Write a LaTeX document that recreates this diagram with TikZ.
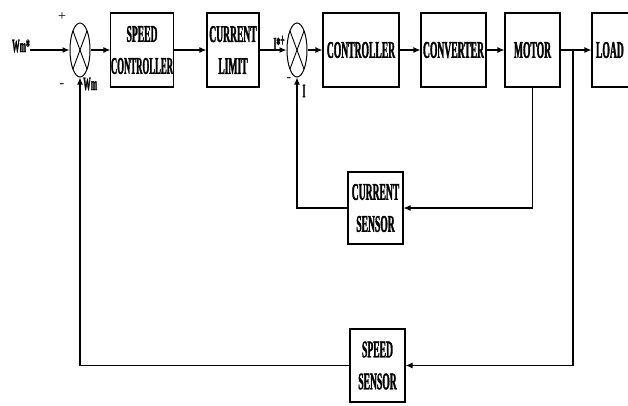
\documentclass[tikz,border=0pt]{standalone}
\usepackage{fontspec}
\setmainfont{Liberation Serif}
\newfontfamily\cf[FakeStretch=0.40,FakeBold=1.2]{Liberation Serif}
\usetikzlibrary{arrows.meta,shapes.geometric}
\begin{document}
\begin{tikzpicture}[x=1pt,y=-1pt,
  blk/.style={draw,line width=1.1pt,inner sep=0pt,align=center,
    font=\cf\bfseries\fontsize{24}{32}\selectfont},
  sum/.style={draw,ellipse,line width=1pt,minimum width=20pt,minimum height=54pt,inner sep=0pt},
  arr/.style={line width=1.1pt,-{Latex[length=7pt,width=6pt]}},
  lbl/.style={font=\cf\bfseries\fontsize{19}{19}\selectfont,inner sep=0pt},
  sgn/.style={font=\fontsize{14}{14}\selectfont,inner sep=0pt}]
\useasboundingbox (0,0) rectangle (628,405);
\clip (0,0) rectangle (628,405);
% blocks
\node[blk,minimum width=62pt,minimum height=74pt] (sc) at (142,50) {SPEED\\\scalebox{0.91}[1]{CONTROLLER}};
\node[blk,minimum width=52pt,minimum height=74pt] (cl) at (233,50) {CURRENT\\LIMIT};
\node[blk,minimum width=76pt,minimum height=74pt] (ctrl) at (361,50) {CONTROLLER};
\node[blk,minimum width=65pt,minimum height=74pt] (conv) at (453.5,50) {CONVERTER};
\node[blk,minimum width=55pt,minimum height=74pt] (motor) at (532.5,50) {MOTOR};
\node[blk,minimum width=58pt,minimum height=74pt,text width=52pt,align=left] (load) at (621,50) {\hspace*{1pt}LOAD};
\node[blk,minimum width=55pt,minimum height=72pt] (cs) at (375.5,208) {CURRENT\\SENSOR};
\node[blk,minimum width=55pt,minimum height=73pt] (ss) at (377.5,365.5) {SPEED\\SENSOR};
% summing junctions
\node[sum] (s1) at (80,50) {};
\node[sum] (s2) at (297,50) {};
\foreach \s in {s1,s2}{
  \draw[line width=0.9pt] ([shift={(-7,-19)}]\s.center) -- ([shift={(7,19)}]\s.center);
  \draw[line width=0.9pt] ([shift={(7,-19)}]\s.center) -- ([shift={(-7,19)}]\s.center);
}
% labels
\node[lbl,anchor=east] (wm) at (30,46) {Wm*};
\node[sgn] (p1) at (62,17) {+};
\node[sgn] (m1) at (62,86) {-};
\node[lbl,anchor=west] (w1) at (83,84) {Wm};
\node[lbl] (istar) at (279,43) {I*\raisebox{4pt}{+}};
\node[sgn] (m2) at (289,80) {-};
\node[lbl] (i1) at (304,91) {I};
% connectors
\coordinate (br) at (573,50);
\draw[arr] (wm.east|-s1.west) -- (s1.west);
\draw[arr] (s1.east) -- (sc.west);
\draw[arr] (sc.east) -- (cl.west);
\draw[arr] (cl.east) -- (s2.west);
\draw[arr] (s2.east) -- (ctrl.west);
\draw[arr] (ctrl.east) -- (conv.west);
\draw[arr] (conv.east) -- (motor.west);
\draw[arr] (motor.east) -- (load.west);
\draw[arr] (br) |- (ss.east);
\draw[arr] (ss.west) -| (s1.south);
\draw[arr] (motor.south) |- (cs.east);
\draw[arr] (cs.west) -| (s2.south);
\end{tikzpicture}
\end{document}
